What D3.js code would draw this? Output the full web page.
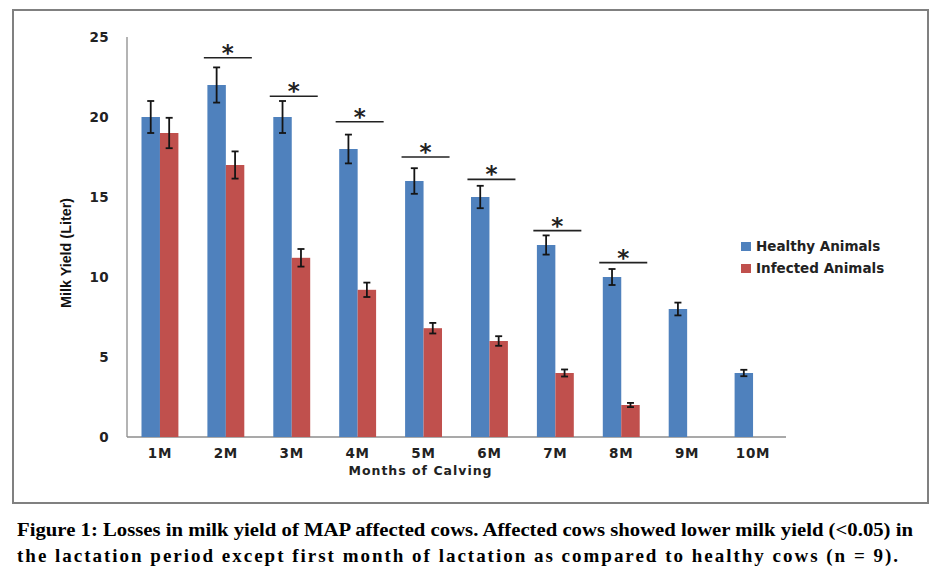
<!DOCTYPE html>
<html>
<head>
<meta charset="utf-8">
<script src="https://cdn.jsdelivr.net/npm/d3@7"></script>
<style>
  body { margin: 0; background: #fff; }
</style>
</head>
<body>
<script>
// datos
var months = ["1M", "2M", "3M", "4M", "5M", "6M", "7M", "8M", "9M", "10M"];
var healthy = [20, 22, 20, 18, 16, 15, 12, 10, 8, 4];
var healthyErr = [1.0, 1.1, 1.0, 0.9, 0.8, 0.7, 0.6, 0.5, 0.4, 0.2];
var infected = [19, 17, 11.2, 9.2, 6.8, 6, 4, 2, null, null];
var infectedErr = [0.95, 0.85, 0.55, 0.45, 0.33, 0.3, 0.22, 0.13, null, null];
var yTicks = [0, 5, 10, 15, 20, 25];
var sigMonths = ["2M", "3M", "4M", "5M", "6M", "7M", "8M"];
var sigLevels = [23.7, 21.3, 19.7, 17.5, 16.1, 12.9, 10.9];
var seriesNames = ["Healthy Animals", "Infected Animals"];
var colors = ["#4F81BD", "#C0504D"];

var w = 949, h = 586;

var svg = d3.select("body").append("svg")
    .attr("width", w)
    .attr("height", h);

// marco exterior
svg.append("rect")
    .attr("x", 13).attr("y", 10)
    .attr("width", 915).attr("height", 493)
    .attr("fill", "none")
    .attr("stroke", "#808080")
    .attr("stroke-width", 2);

// escalas
var xScale = d3.scaleBand()
    .domain(months)
    .range([127, 786])
    .paddingInner(0.44)
    .paddingOuter(0.22);

var xSub = d3.scaleBand()
    .domain([0, 1])
    .range([0, xScale.bandwidth()]);

var yScale = d3.scaleLinear()
    .domain([0, 25])
    .range([437, 37]);

// ejes
svg.append("line")
    .attr("x1", 127).attr("x2", 127)
    .attr("y1", yScale(25)).attr("y2", yScale(0))
    .attr("stroke", "#8c8c8c").attr("stroke-width", 1.3);
svg.append("line")
    .attr("x1", 127).attr("x2", 786)
    .attr("y1", yScale(0)).attr("y2", yScale(0))
    .attr("stroke", "#8c8c8c").attr("stroke-width", 1.3);

var yAxis = d3.axisLeft(yScale).tickValues(yTicks).tickSize(0).tickPadding(18);
var gy = svg.append("g")
    .attr("transform", "translate(127,0)")
    .call(yAxis);
gy.select(".domain").remove();
gy.selectAll("text")
    .attr("font-family", "DejaVu Sans, Verdana, sans-serif")
    .attr("font-weight", "bold")
    .attr("font-size", "13.5px")
    .attr("letter-spacing", "0.4px")
    .attr("fill", "#222");

var xAxis = d3.axisBottom(xScale).tickSize(0).tickPadding(11);
var gx = svg.append("g")
    .attr("transform", "translate(0," + yScale(0) + ")")
    .call(xAxis);
gx.select(".domain").remove();
gx.selectAll("text")
    .attr("font-family", "DejaVu Sans, Verdana, sans-serif")
    .attr("font-weight", "bold")
    .attr("font-size", "13.5px")
    .attr("letter-spacing", "0.8px")
    .attr("fill", "#222");

// titulos de ejes
svg.append("text")
    .attr("x", 420).attr("y", 475)
    .attr("text-anchor", "middle")
    .attr("font-family", "DejaVu Sans, Verdana, sans-serif")
    .attr("font-weight", "bold")
    .attr("font-size", "12.5px")
    .attr("textLength", 143)
    .attr("lengthAdjust", "spacing")
    .attr("fill", "#222")
    .text("Months of Calving");

svg.append("text")
    .attr("transform", "translate(71,253) rotate(-90)")
    .attr("text-anchor", "middle")
    .attr("font-family", "Liberation Sans, Arial, sans-serif")
    .attr("font-weight", "bold")
    .attr("font-size", "14.5px")
    .attr("textLength", 110)
    .attr("lengthAdjust", "spacingAndGlyphs")
    .attr("fill", "#111")
    .text("Milk Yield (Liter)");

// barras
var series = [healthy, infected];
var errs = [healthyErr, infectedErr];

series.forEach(function(vals, s) {
    var pts = months.map(function(m, i) {
        return { m: m, v: vals[i], e: errs[s][i] };
    }).filter(function(d) { return d.v !== null; });

    svg.append("g").selectAll("rect")
        .data(pts)
        .enter()
        .append("rect")
        .attr("x", function(d) { return xScale(d.m) + xSub(s); })
        .attr("y", function(d) { return yScale(d.v); })
        .attr("width", xSub.bandwidth())
        .attr("height", function(d) { return yScale(0) - yScale(d.v); })
        .attr("fill", colors[s]);

    // barras de error
    var ge = svg.append("g")
        .attr("stroke", "#151515")
        .attr("stroke-width", 1.8);
    pts.forEach(function(d) {
        var cx = xScale(d.m) + xSub(s) + xSub.bandwidth() / 2;
        ge.append("line")
            .attr("x1", cx).attr("x2", cx)
            .attr("y1", yScale(d.v + d.e)).attr("y2", yScale(d.v - d.e));
        [d.v + d.e, d.v - d.e].forEach(function(v) {
            ge.append("line")
                .attr("x1", cx - 3.5).attr("x2", cx + 3.5)
                .attr("y1", yScale(v)).attr("y2", yScale(v));
        });
    });
});

// lineas de significancia
sigMonths.forEach(function(m, i) {
    var cx = xScale(m) + xScale.bandwidth() / 2 + 2;
    var y = yScale(sigLevels[i]);
    svg.append("line")
        .attr("x1", cx - 24).attr("x2", cx + 24)
        .attr("y1", y).attr("y2", y)
        .attr("stroke", "#222").attr("stroke-width", 1.6);
    svg.append("text")
        .attr("x", cx).attr("y", y + 3)
        .attr("text-anchor", "middle")
        .attr("font-family", "DejaVu Sans, sans-serif")
        .attr("font-weight", "bold")
        .attr("font-size", "23px")
        .attr("fill", "#222")
        .text("*");
});

// leyenda
seriesNames.forEach(function(name, i) {
    var ly = 246 + i * 22;
    svg.append("rect")
        .attr("x", 741).attr("y", ly - 4)
        .attr("width", 10).attr("height", 9)
        .attr("fill", colors[i]);
    svg.append("text")
        .attr("x", 756).attr("y", ly + 5)
        .attr("font-family", "DejaVu Sans, Verdana, sans-serif")
        .attr("font-weight", "bold")
        .attr("font-size", "13.5px")
        .attr("fill", "#222")
        .text(name);
});

// pie de figura
svg.append("text")
    .attr("x", 17).attr("y", 536)
    .attr("font-family", "Liberation Serif, serif")
    .attr("font-weight", "bold")
    .attr("font-size", "19px")
    .attr("textLength", 896)
    .attr("lengthAdjust", "spacingAndGlyphs")
    .attr("fill", "#000")
    .text("Figure 1: Losses in milk yield of MAP affected cows. Affected cows showed lower milk yield (<0.05) in");
svg.append("text")
    .attr("x", 17).attr("y", 562)
    .attr("font-family", "Liberation Serif, serif")
    .attr("font-weight", "bold")
    .attr("font-size", "19px")
    .attr("textLength", 881)
    .attr("lengthAdjust", "spacing")
    .attr("fill", "#000")
    .text("the lactation period except first month of lactation as compared to healthy cows (n = 9).");
</script>
</body>
</html>
